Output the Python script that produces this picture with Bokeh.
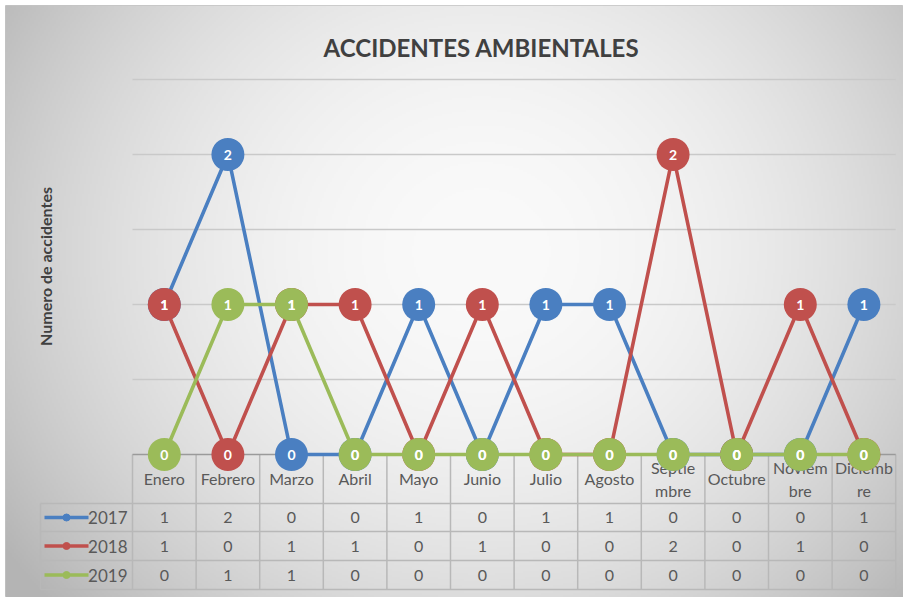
import numpy as np
from bokeh.plotting import figure
from bokeh.models import Range1d
from bokeh.core.properties import value
from bokeh.embed import file_html
from bokeh.resources import INLINE

# ---------------- data ----------------
title_text = "ACCIDENTES AMBIENTALES"
y_label = "Numero de accidentes"
months = ["Enero", "Febrero", "Marzo", "Abril", "Mayo", "Junio", "Julio",
          "Agosto", "Septie\nmbre", "Octubre", "Noviem\nbre", "Diciemb\nre"]
series_names = ["2017", "2018", "2019"]
s2017 = [1, 2, 0, 0, 1, 0, 1, 1, 0, 0, 0, 1]
s2018 = [1, 0, 1, 1, 0, 1, 0, 0, 2, 0, 1, 0]
s2019 = [0, 1, 1, 0, 0, 0, 0, 0, 0, 0, 0, 0]
grid_values = [0.5, 1.0, 1.5, 2.0, 2.5]

series = [s2017, s2018, s2019]
colors = ["#4a7fc1", "#c0504d", "#9bbb59"]

# ---------------- layout (pixels, page coordinates) ----------------
W, H = 903, 597
FX, FY = 5, 5          # frame origin on page
PX_X = 63.6            # pixels per category
PX_Y = 150.0           # pixels per unit value
LEFT = 132             # page x of category 0
BASE = 454             # page y of value 0

def ux(pix):
    return (pix - LEFT) / PX_X

def vy(pix):
    return (BASE - pix) / PX_Y

n = len(months)
xs = [i + 0.5 for i in range(n)]

p = figure(width=W, height=H, output_backend="svg", toolbar_location=None,
           x_range=Range1d(ux(FX), ux(W)), y_range=Range1d(vy(H), vy(FY)),
           min_border=0, min_border_left=FX, min_border_top=FY,
           x_axis_type=None, y_axis_type=None)
p.xgrid.visible = False
p.ygrid.visible = False
p.outline_line_color = "#c4c4c4"
p.outline_line_width = 1
p.background_fill_color = "#ececec"
p.border_fill_color = "white"

# background radial gradient (style only)
fw, fh = W - FX, H - FY
gh, gw = fh // 2, fw // 2
yy, xx = np.mgrid[0:gh, 0:gw]
px_x = FX + xx * 2.0
px_y = FY + (gh - 1 - yy) * 2.0  # row 0 at bottom
d2 = ((px_x - 480) / 470.0) ** 2 + ((px_y - 250) / 430.0) ** 2
g = np.clip(250 - 46 * d2, 180, 251).astype(np.uint8)
img = np.empty((gh, gw), dtype=np.uint32)
view = img.view(dtype=np.uint8).reshape((gh, gw, 4))
view[:, :, 0] = g
view[:, :, 1] = g
view[:, :, 2] = g
view[:, :, 3] = 255
p.image_rgba(image=[img], x=ux(FX), y=vy(H), dw=ux(W) - ux(FX), dh=vy(FY) - vy(H))

# gridlines
p.segment(x0=[0] * len(grid_values), x1=[n] * len(grid_values),
          y0=grid_values, y1=grid_values, line_color="#c9c9c9", line_width=1.5)

# ---------------- table ----------------
tbl_line = "#b8b8b8"
row_edges_px = [503, 531, 560, 589]  # header bottom, then row bottoms
legend_left = ux(40)
header_bottom = vy(row_edges_px[0])
table_bottom = vy(row_edges_px[-1])

p.segment(x0=list(range(n + 1)), x1=list(range(n + 1)),
          y0=[0] * (n + 1), y1=[table_bottom] * (n + 1),
          line_color=tbl_line, line_width=1.5)
p.segment(x0=[legend_left], x1=[legend_left], y0=[header_bottom], y1=[table_bottom],
          line_color=tbl_line, line_width=1.5)
hy = [vy(r) for r in row_edges_px]
p.segment(x0=[legend_left] * len(hy), x1=[n] * len(hy), y0=hy, y1=hy,
          line_color=tbl_line, line_width=1.5)
p.segment(x0=[0], x1=[n], y0=[0], y1=[0], line_color="#9a9a9a", line_width=1.5)

txt_font = value("Lato")
txt_color = "#595959"
txt_size = "16px"

# header labels
hx1, hy1, ht1 = [], [], []
hx2, hy2, ht2 = [], [], []
for x, m in zip(xs, months):
    parts = m.split("\n")
    if len(parts) == 1:
        hx1.append(x); hy1.append(vy(478)); ht1.append(parts[0])
    else:
        hx2 += [x, x]; hy2 += [vy(467), vy(490)]; ht2 += parts
p.text(x=hx1, y=hy1, text=ht1, text_align="center", text_baseline="middle",
       text_font=txt_font, text_font_size=txt_size, text_color=txt_color)
p.text(x=hx2, y=hy2, text=ht2, text_align="center", text_baseline="middle",
       text_font=txt_font, text_font_size=txt_size, text_color=txt_color)

# value rows + legend keys
for r, (name, vals, col) in enumerate(zip(series_names, series, colors)):
    top = row_edges_px[r]
    bot = row_edges_px[r + 1]
    cy = vy((top + bot) / 2)
    p.text(x=xs, y=[cy] * n, text=[str(v) for v in vals], text_align="center",
           text_baseline="middle", text_font=txt_font, text_font_size=txt_size,
           text_color=txt_color)
    p.segment(x0=[ux(44)], x1=[ux(88)], y0=[cy], y1=[cy], line_color=col, line_width=3.5)
    p.scatter(x=[ux(66)], y=[cy], size=7, fill_color=col, line_color=col)
    p.text(x=[ux(127)], y=[cy], text=[name], text_align="right", text_baseline="middle",
           text_font=txt_font, text_font_size="17px", text_color=txt_color)

# ---------------- series ----------------
for vals, col in zip(series, colors):
    p.line(x=xs, y=vals, line_color=col, line_width=3.6)
    p.scatter(x=xs, y=vals, size=33, fill_color=col, line_color=None)
for vals in series:
    p.text(x=xs, y=vals, text=[str(v) for v in vals], text_align="center",
           text_baseline="middle", text_font=txt_font, text_font_style="bold",
           text_font_size="14px", text_color="white")

# titles
p.text(x=[ux(481)], y=[vy(47)], text=[title_text], text_align="center",
       text_baseline="middle", text_font=txt_font, text_font_style="bold",
       text_font_size="24px", text_color="#404040")
p.text(x=[ux(45)], y=[vy(266)], text=[y_label], angle=np.pi / 2, text_align="center",
       text_baseline="middle", text_font=txt_font, text_font_style="bold",
       text_font_size="16px", text_color="#404040")

open("out.html", "w").write(file_html(p, INLINE))
